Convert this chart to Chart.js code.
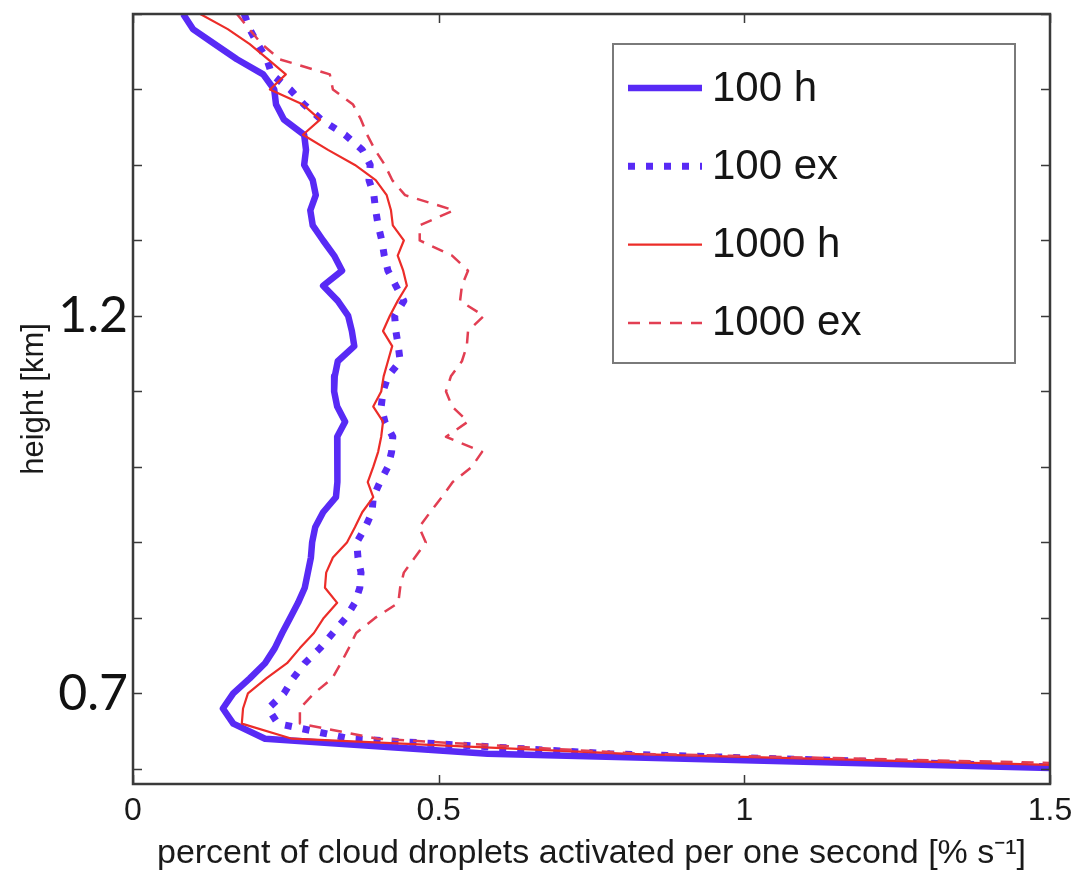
<!DOCTYPE html>
<html>
<head>
<meta charset="utf-8">
<script src="https://cdn.jsdelivr.net/npm/chart.js@4.4.0/dist/chart.umd.min.js"></script>
<style>
  html, body { margin: 0; padding: 0; background: #fff; }
  canvas { display: block; }
</style>
</head>
<body>
<canvas id="chart" width="1091" height="876"></canvas>
<script>
// height levels [km], top to bottom
const heights = [
  1.60, 1.58, 1.56, 1.54, 1.52, 1.50, 1.48, 1.46, 1.44, 1.42,
  1.40, 1.38, 1.36, 1.34, 1.32, 1.30, 1.28, 1.26, 1.24, 1.22,
  1.20, 1.18, 1.16, 1.14, 1.12, 1.10, 1.08, 1.06, 1.04, 1.02,
  1.00, 0.98, 0.96, 0.94, 0.92, 0.90, 0.88, 0.86, 0.84, 0.82,
  0.80, 0.78, 0.76, 0.74, 0.72, 0.70, 0.68, 0.66, 0.64, 0.62,
  0.60
];

// percent of droplets activated per second [% s^-1]
const rate100h = [
  0.082, 0.098, 0.134, 0.170, 0.213, 0.231, 0.234, 0.247, 0.280, 0.283,
  0.280, 0.294, 0.299, 0.290, 0.294, 0.311, 0.329, 0.342, 0.311, 0.335,
  0.352, 0.358, 0.362, 0.335, 0.330, 0.329, 0.334, 0.347, 0.334, 0.334,
  0.334, 0.335, 0.332, 0.311, 0.298, 0.293, 0.291, 0.286, 0.281, 0.270,
  0.257, 0.244, 0.232, 0.216, 0.191, 0.164, 0.147, 0.164, 0.216, 0.58,
  1.55
];

const rate100ex = [
  0.182, 0.191, 0.204, 0.219, 0.227, 0.257, 0.280, 0.308, 0.347, 0.375,
  0.388, 0.386, 0.394, 0.397, 0.401, 0.407, 0.411, 0.417, 0.430, 0.443,
  0.428, 0.430, 0.434, 0.437, 0.417, 0.409, 0.406, 0.412, 0.425, 0.423,
  0.417, 0.404, 0.393, 0.391, 0.380, 0.366, 0.368, 0.373, 0.371, 0.363,
  0.348, 0.327, 0.306, 0.281, 0.262, 0.247, 0.221, 0.237, 0.355, 0.78,
  1.62
];

const rate1000h = [
  0.110, 0.155, 0.191, 0.221, 0.250, 0.224, 0.278, 0.306, 0.278, 0.319,
  0.363, 0.397, 0.415, 0.422, 0.425, 0.443, 0.433, 0.442, 0.448, 0.433,
  0.420, 0.409, 0.424, 0.417, 0.410, 0.406, 0.393, 0.409, 0.406, 0.401,
  0.393, 0.384, 0.393, 0.375, 0.363, 0.350, 0.327, 0.316, 0.314, 0.334,
  0.312, 0.296, 0.273, 0.252, 0.218, 0.188, 0.180, 0.178, 0.26, 0.81,
  1.75
];

const rate1000ex = [
  0.170, 0.190, 0.211, 0.240, 0.322, 0.327, 0.360, 0.373, 0.383, 0.396,
  0.412, 0.424, 0.445, 0.525, 0.469, 0.469, 0.522, 0.548, 0.538, 0.535,
  0.574, 0.548, 0.546, 0.538, 0.520, 0.512, 0.522, 0.548, 0.512, 0.571,
  0.554, 0.523, 0.505, 0.486, 0.468, 0.479, 0.461, 0.443, 0.437, 0.434,
  0.396, 0.365, 0.353, 0.340, 0.326, 0.296, 0.273, 0.273, 0.40, 0.83,
  1.94
];

const seriesLabels = ['100 h', '100 ex', '1000 h', '1000 ex'];
const xTicks = [0, 0.5, 1, 1.5];
const yTicks = [0.6, 0.7, 0.8, 0.9, 1.0, 1.1, 1.2, 1.3, 1.4, 1.5, 1.6];
const yLabelled = [0.7, 1.2];

const BLUE = 'rgb(88, 42, 245)';
const RED = 'rgb(236, 44, 40)';
const RED_DASH = 'rgb(226, 62, 82)';
const SANS = '"Liberation Sans", Arial, sans-serif';

const toPoints = vals => heights.map((h, i) => ({ x: vals[i], y: h }));

// matlab style box with inward ticks on all sides
const axesBox = {
    id: 'axesBox',
    afterDatasetsDraw(chart) {
        const { ctx, chartArea: a, scales } = chart;
        const len = 9;
        ctx.save();
        ctx.strokeStyle = '#3a3a3a';
        ctx.lineWidth = 1.5;
        ctx.beginPath();
        yTicks.forEach(v => {
            const y = Math.round(scales.y.getPixelForValue(v)) + 0.5;
            ctx.moveTo(a.left, y); ctx.lineTo(a.left + len, y);
            ctx.moveTo(a.right, y); ctx.lineTo(a.right - len, y);
        });
        xTicks.forEach(v => {
            const x = Math.round(scales.x.getPixelForValue(v)) + 0.5;
            ctx.moveTo(x, a.bottom); ctx.lineTo(x, a.bottom - len);
            ctx.moveTo(x, a.top); ctx.lineTo(x, a.top + len);
        });
        ctx.stroke();
        ctx.lineWidth = 2.5;
        ctx.strokeRect(a.left, a.top, a.right - a.left, a.bottom - a.top);
        ctx.restore();
    }
};

// legend box in the upper right of the plot
const boxLegend = {
    id: 'boxLegend',
    afterDraw(chart) {
        const ctx = chart.ctx;
        const x0 = 613, y0 = 44, w = 402, h = 319;
        ctx.save();
        ctx.fillStyle = '#fff';
        ctx.fillRect(x0, y0, w, h);
        ctx.strokeStyle = '#7a7a7a';
        ctx.lineWidth = 2;
        ctx.strokeRect(x0, y0, w, h);
        chart.data.datasets.forEach((ds, i) => {
            const y = y0 + 44 + i * 78.3;
            ctx.beginPath();
            ctx.strokeStyle = ds.borderColor;
            ctx.lineWidth = ds.borderWidth;
            ctx.setLineDash(ds.borderDash || []);
            ctx.moveTo(628, y);
            ctx.lineTo(702, y);
            ctx.stroke();
            ctx.setLineDash([]);
            ctx.fillStyle = '#151515';
            ctx.font = '42px ' + SANS;
            ctx.textBaseline = 'middle';
            ctx.fillText(ds.label, 712, y + 1);
        });
        ctx.restore();
    }
};

new Chart(document.getElementById('chart'), {
    type: 'scatter',
    data: {
        datasets: [
            { label: seriesLabels[0], data: toPoints(rate100h), borderColor: BLUE, borderWidth: 6.5, order: 4 },
            { label: seriesLabels[1], data: toPoints(rate100ex), borderColor: BLUE, borderWidth: 7, borderDash: [7, 11], order: 3 },
            { label: seriesLabels[2], data: toPoints(rate1000h), borderColor: RED, borderWidth: 2.2, order: 2 },
            { label: seriesLabels[3], data: toPoints(rate1000ex), borderColor: RED_DASH, borderWidth: 2.5, borderDash: [12, 9], order: 1 }
        ].map(ds => ({
            ...ds,
            showLine: true,
            fill: false,
            tension: 0,
            pointRadius: 0,
            pointHoverRadius: 0,
            borderJoinStyle: 'round',
            backgroundColor: ds.borderColor
        }))
    },
    options: {
        responsive: false,
        animation: false,
        devicePixelRatio: 1,
        layout: { padding: { top: 14, right: 41, bottom: 0, left: 0 } },
        scales: {
            x: {
                type: 'linear',
                min: 0,
                max: 1.5,
                afterBuildTicks: scale => { scale.ticks = xTicks.map(v => ({ value: v })); },
                afterFit: scale => { scale.height = 92; },
                grid: { display: false, drawTicks: false, tickLength: 0 },
                border: { display: false },
                ticks: {
                    padding: 8,
                    color: '#1a1a1a',
                    font: { family: SANS, size: 32 },
                    callback: v => String(v)
                },
                title: {
                    display: true,
                    text: 'percent of cloud droplets activated per one second [% s\u207B\u00B9]',
                    color: '#1a1a1a',
                    font: { family: SANS, size: 34 },
                    padding: { top: 0, bottom: 2 }
                }
            },
            y: {
                type: 'linear',
                min: 0.58,
                max: 1.6,
                afterBuildTicks: scale => { scale.ticks = yTicks.map(v => ({ value: v })); },
                afterFit: scale => {
                    scale.width = 133;
                    scale.paddingTop = 0;
                    scale.paddingBottom = 0;
                },
                grid: { display: false, drawTicks: false, tickLength: 0 },
                border: { display: false },
                ticks: {
                    padding: 5,
                    color: '#111',
                    font: { family: 'Lato, "Open Sans", sans-serif', size: 50 },
                    callback: v => yLabelled.some(t => Math.abs(t - v) < 1e-6) ? v.toFixed(1) : ''
                },
                title: {
                    display: true,
                    text: 'height [km]',
                    color: '#1a1a1a',
                    font: { family: SANS, size: 31 },
                    padding: { top: 16, bottom: 0 }
                }
            }
        },
        plugins: {
            legend: { display: false },
            tooltip: { enabled: false }
        }
    },
    plugins: [axesBox, boxLegend]
});
</script>
</body>
</html>
